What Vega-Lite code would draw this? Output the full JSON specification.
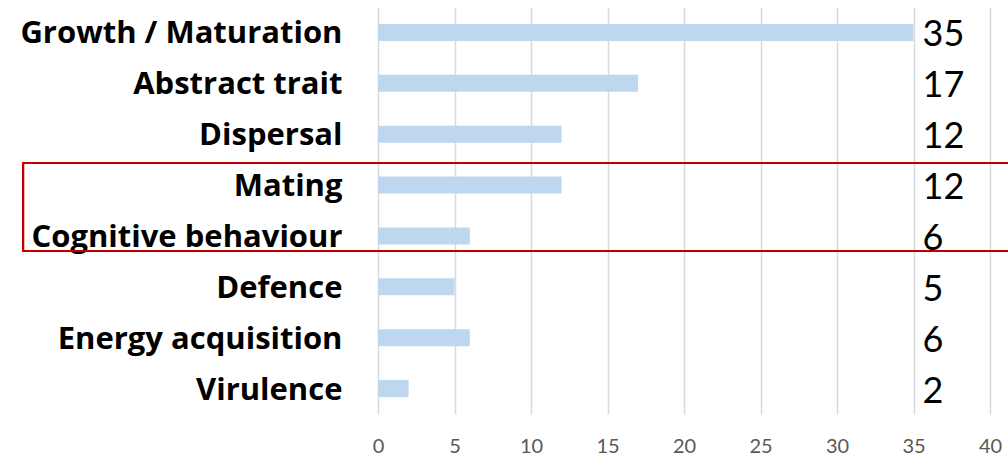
{
  "$schema": "https://vega.github.io/schema/vega-lite/v6.json",
  "width": 612,
  "height": 407,
  "autosize": {"type": "none"},
  "padding": {"left": 378, "top": 7, "right": 18, "bottom": 43},
  "background": "white",
  "data": {
    "values": [
      {"category": "Growth / Maturation", "count": 35},
      {"category": "Abstract trait", "count": 17},
      {"category": "Dispersal", "count": 12},
      {"category": "Mating", "count": 12},
      {"category": "Cognitive behaviour", "count": 6},
      {"category": "Defence", "count": 5},
      {"category": "Energy acquisition", "count": 6},
      {"category": "Virulence", "count": 2}
    ]
  },
  "config": {
    "view": {"stroke": null},
    "font": "Lato"
  },
  "encoding": {
    "y": {
      "field": "category",
      "type": "nominal",
      "sort": null,
      "scale": {"paddingInner": 0.666, "paddingOuter": 0.333},
      "axis": {
        "title": null,
        "domain": false,
        "ticks": false,
        "labelFont": "Open Sans",
        "labelFontSize": 31,
        "labelFontWeight": "bold",
        "labelColor": "#000000",
        "labelPadding": 36,
        "labelOffset": 2,
        "labelLimit": 400
      }
    }
  },
  "layer": [
    {
      "mark": {"type": "bar", "color": "#BDD7EE"},
      "encoding": {
        "x": {
          "field": "count",
          "type": "quantitative",
          "scale": {"domain": [0, 40], "nice": false},
          "axis": {
            "title": null,
            "values": [0, 5, 10, 15, 20, 25, 30, 35, 40],
            "domain": false,
            "ticks": false,
            "grid": true,
            "gridColor": "#D9D9D9",
            "gridWidth": 1.5,
            "labelFont": "Lato",
            "labelFontSize": 20,
            "labelColor": "#595959",
            "labelPadding": 22,
            "labelFlush": false
          }
        }
      }
    },
    {
      "mark": {"type": "text", "align": "left", "baseline": "middle", "dx": 9, "dy": 3, "fontSize": 36, "font": "Lato", "color": "#000000"},
      "encoding": {
        "x": {"datum": 35, "type": "quantitative"},
        "text": {"field": "count", "type": "quantitative"}
      }
    },
    {
      "mark": {"type": "rect", "fill": null, "fillOpacity": 0, "stroke": "#C00000", "strokeWidth": 2, "yOffset": -22, "y2Offset": 15},
      "encoding": {
        "x": {"datum": -23.2, "type": "quantitative"},
        "x2": {"datum": 42},
        "y": {"datum": "Mating", "type": "nominal", "bandPosition": 0.5},
        "y2": {"datum": "Cognitive behaviour", "bandPosition": 0.5}
      }
    }
  ]
}
